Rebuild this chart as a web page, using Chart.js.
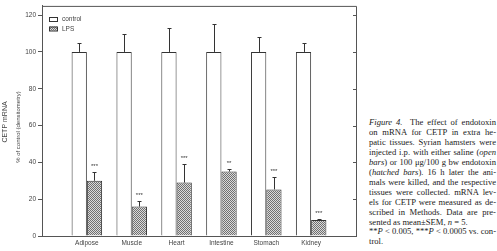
<!DOCTYPE html>
<html>
<head>
<meta charset="utf-8">
<script src="https://cdn.jsdelivr.net/npm/chart.js@4.4.0/dist/chart.umd.min.js"></script>
<style>
  html, body { margin: 0; padding: 0; background: #fff; }
  .wrap { position: relative; width: 497px; height: 251px; overflow: hidden; }
  .plot { position: absolute; left: 0; top: 0; width: 365px; height: 251px; }
  .caption { position: absolute; left: 369px; top: 118px; width: 127px;
    font-family: "Liberation Serif", "DejaVu Serif", serif; font-size: 8.6px; line-height: 9.95px; color: #1a1a1a; }
  .caption div { text-align: justify; text-align-last: justify; white-space: nowrap; }
  .caption div.end { text-align-last: left; }
</style>
</head>
<body>
<div class="wrap">
  <div class="plot"><canvas id="cetp" width="365" height="251"></canvas></div>
  <div class="caption">
    <div><i>Figure 4.</i>&nbsp; The effect of endotoxin</div>
    <div>on mRNA for CETP in extra he-</div>
    <div>patic tissues. Syrian hamsters were</div>
    <div>injected i.p. with either saline (<i>open</i></div>
    <div><i>bars</i>) or 100 μg/100 g bw endotoxin</div>
    <div>(<i>hatched bars</i>). 16 h later the ani-</div>
    <div>mals were killed, and the respective</div>
    <div>tissues were collected. mRNA lev-</div>
    <div>els for CETP were measured as de-</div>
    <div>scribed in Methods. Data are pre-</div>
    <div class="end">sented as mean±SEM, <i>n</i> = 5.</div>
    <div>**<i>P</i> &lt; 0.005, ***<i>P</i> &lt; 0.0005 vs. con-</div>
    <div class="end">trol.</div>
  </div>
</div>
<script>
/* CETP mRNA, control vs LPS */
const tissues = ['Adipose', 'Muscle', 'Heart', 'Intestine', 'Stomach', 'Kidney'];
const controlMean = [100, 100, 100, 100, 100, 100];
const controlSem = [5, 9.5, 13, 15, 8, 5];
const lpsMean = [30, 16, 29, 35, 25.3, 8.7];
const lpsSem = [4.5, 3, 10, 1.3, 7, 0.8];
const lpsStars = ['***', '***', '***', '**', '***', '***'];
const yTicks = [0, 20, 40, 60, 80, 100, 120];

const INK = '#444';
const FRAME = '#555';

// empty slots at both ends give the outer margins of the original axis
const pad = (arr) => [null, ...arr, null];

function hatch() {
  const c = document.createElement('canvas');
  c.width = 2; c.height = 2;
  const g = c.getContext('2d');
  g.fillStyle = '#dadada'; g.fillRect(0, 0, 2, 2);
  g.fillStyle = '#707070'; g.fillRect(0, 0, 1, 1); g.fillRect(1, 1, 1, 1);
  return g.createPattern(c, 'repeat');
}
const lpsFill = hatch();

const extras = {
  id: 'extras',
  afterDatasetsDraw(chart) {
    const { ctx, scales: { y } } = chart;
    const sems = [pad(controlSem), pad(lpsSem)];
    ctx.save();
    ctx.strokeStyle = '#333';
    ctx.lineWidth = 1;
    chart.data.datasets.forEach((ds, di) => {
      chart.getDatasetMeta(di).data.forEach((bar, i) => {
        if (ds.data[i] == null) return;
        const top = Math.round(y.getPixelForValue(ds.data[i] + sems[di][i])) + 0.5;
        const x = Math.round(bar.x) + 0.5;
        ctx.beginPath();
        ctx.moveTo(x, bar.y); ctx.lineTo(x, top);
        ctx.moveTo(x - 2, top); ctx.lineTo(x + 2, top);
        ctx.stroke();
        if (di === 1) {
          ctx.fillStyle = '#333';
          ctx.font = '6px "Liberation Sans", Arial, sans-serif';
          ctx.textAlign = 'center';
          ctx.textBaseline = 'middle';
          ctx.fillText(lpsStars[i - 1], bar.x, top - 6);
        }
      });
    });
    ctx.restore();
  },
  afterDraw(chart) {
    const { ctx, chartArea: a, scales: { y } } = chart;
    ctx.save();
    // top and right frame, inward ticks on the right
    ctx.strokeStyle = FRAME;
    ctx.lineWidth = 1;
    ctx.beginPath();
    ctx.moveTo(a.left, a.top + 0.5); ctx.lineTo(a.right + 0.5, a.top + 0.5);
    ctx.lineTo(a.right + 0.5, a.bottom);
    yTicks.forEach((v) => {
      const p = Math.round(y.getPixelForValue(v)) + 0.5;
      ctx.moveTo(a.right - 3, p); ctx.lineTo(a.right, p);
    });
    ctx.stroke();

    // legend inside the plot
    const items = [
      { label: 'control', fill: '#fff' },
      { label: 'LPS', fill: lpsFill },
    ];
    ctx.font = '6.5px "Liberation Sans", Arial, sans-serif';
    ctx.textBaseline = 'middle';
    ctx.textAlign = 'left';
    items.forEach((it, k) => {
      const top = 17 + k * 9.5;
      ctx.fillStyle = it.fill;
      ctx.fillRect(49, top, 8, 4);
      ctx.strokeStyle = '#333';
      ctx.strokeRect(49.5, top + 0.5, 8, 4);
      ctx.fillStyle = INK;
      ctx.fillText(it.label, 62, top + 2.5);
    });

    // two-line y title
    ctx.fillStyle = INK;
    ctx.textAlign = 'center';
    ctx.translate(5, 122);
    ctx.rotate(-Math.PI / 2);
    ctx.font = '7px "Liberation Sans", Arial, sans-serif';
    ctx.fillText('CETP mRNA', 0, 0);
    ctx.font = '6px "Liberation Sans", Arial, sans-serif';
    ctx.fillText('% of control (densitometry)', -5, 13);
    ctx.restore();
  },
};

new Chart(document.getElementById('cetp'), {
  type: 'bar',
  data: {
    labels: ['', ...tissues, ''],
    datasets: [
      {
        label: 'control', data: pad(controlMean),
        backgroundColor: '#fff', borderColor: '#333', borderWidth: 1,
      },
      {
        label: 'LPS', data: pad(lpsMean),
        backgroundColor: lpsFill, borderColor: '#333', borderWidth: 1,
      },
    ],
  },
  options: {
    responsive: false,
    animation: false,
    devicePixelRatio: 1,
    layout: { padding: { top: 5, right: 9, left: 0, bottom: 0 } },
    datasets: { bar: { categoryPercentage: 0.68, barPercentage: 1 } },
    plugins: { legend: { display: false }, tooltip: { enabled: false } },
    scales: {
      x: {
        type: 'category',
        offset: false,
        grid: { display: false, drawTicks: false, tickLength: 0 },
        border: { display: true, color: FRAME, width: 1 },
        ticks: {
          autoSkip: false, maxRotation: 0, padding: 3, color: INK,
          font: { family: '"Liberation Sans", Arial, sans-serif', size: 6.5 },
        },
        afterFit: (s) => { s.height = 15; },
      },
      y: {
        min: 0, max: 125,
        afterBuildTicks: (s) => { s.ticks = yTicks.map((v) => ({ value: v })); },
        grid: { drawOnChartArea: false, drawTicks: true, tickLength: 4, color: FRAME },
        border: { display: true, color: FRAME, width: 1 },
        ticks: {
          padding: 2, color: INK,
          font: { family: '"Liberation Sans", Arial, sans-serif', size: 6.5 },
        },
        afterFit: (s) => { s.width = 42; },
      },
    },
  },
  plugins: [extras],
});
</script>
</body>
</html>
